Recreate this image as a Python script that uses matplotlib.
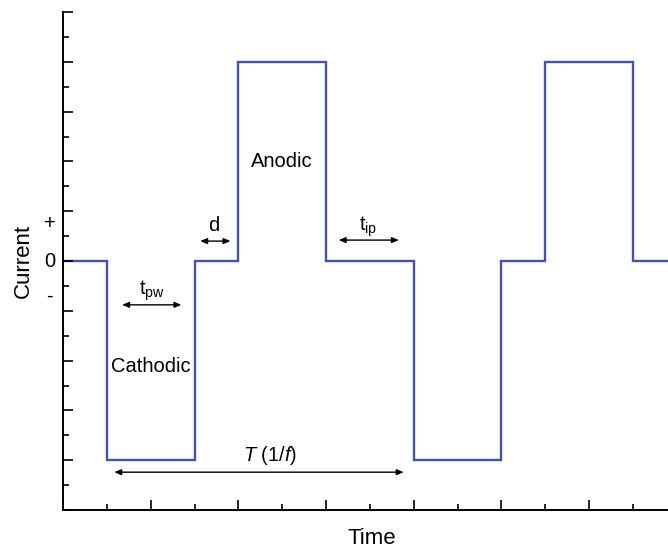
import matplotlib
matplotlib.use('Agg')
import matplotlib.pyplot as plt
from matplotlib.ticker import MultipleLocator

plt.rcParams['font.family'] = ['Liberation Sans', 'DejaVu Sans']
plt.rcParams['mathtext.fontset'] = 'custom'
plt.rcParams['mathtext.rm'] = 'Liberation Sans'
plt.rcParams['mathtext.it'] = 'Liberation Sans:italic'

# biphasic pulse train: step edges (time units) and current level between them
edges = [0, 1, 3, 4, 6, 8, 10, 11, 13, 13.8]
levels = [0, -4, 0, 4, 0, -4, 0, 4, 0]

# annotation arrows: (start, end, y)
arrows = {
    'tpw': (1.35, 2.7, -0.88),
    'd': (3.13, 3.82, 0.40),
    'tip': (6.29, 7.66, 0.42),
    'T': (1.17, 7.77, -4.24),
}

fig = plt.figure(figsize=(6.68, 5.48), dpi=100)
ax = fig.add_axes([0.0943, 0.0693, 0.9057, 0.9088])

ax.stairs(levels, edges, baseline=None, color='#4152b3', linewidth=1.7)

ax.set_xlim(0, 13.8)
ax.set_ylim(-5, 5)
for s in ['top', 'right']:
    ax.spines[s].set_visible(False)
for s in ['left', 'bottom']:
    ax.spines[s].set_linewidth(1.4)

ax.xaxis.set_major_locator(MultipleLocator(2))
ax.xaxis.set_minor_locator(MultipleLocator(1))
ax.yaxis.set_major_locator(MultipleLocator(1))
ax.yaxis.set_minor_locator(MultipleLocator(0.5))
ax.tick_params(which='both', direction='in', labelbottom=False, labelleft=False, width=1.2)
ax.tick_params(which='major', length=7)
ax.tick_params(which='minor', length=4)

# arrows
for key, (x0, x1, y) in arrows.items():
    ax.annotate('', xy=(x1, y), xytext=(x0, y),
                arrowprops=dict(arrowstyle='<|-|>,head_length=0.4,head_width=0.17',
                                color='black', lw=1.0, shrinkA=0, shrinkB=0))

fs = 14.5
ax.text(2.03, -0.6, r'$\mathregular{t_{pw}}$', ha='center', va='center', fontsize=fs)
ax.text(3.45, 0.72, 'd', ha='center', va='center', fontsize=fs)
ax.text(6.97, 0.68, r'$\mathregular{t_{ip}}$', ha='center', va='center', fontsize=fs)
ax.text(4.73, -3.9, r'$\mathit{T}$ (1/$\mathit{f}$)', ha='center', va='center', fontsize=fs)
ax.text(2.0, -2.12, 'Cathodic', ha='center', va='center', fontsize=fs)
ax.text(4.98, 2.0, 'Anodic', ha='center', va='center', fontsize=fs)

# level markers on the current axis
ax.text(-0.3, 0.75, '+', ha='center', va='center', fontsize=fs)
ax.text(-0.3, 0.0, '0', ha='center', va='center', fontsize=fs)
ax.text(-0.3, -0.7, '-', ha='center', va='center', fontsize=fs)

ax.set_xlabel('Time', fontsize=16, labelpad=13, x=0.51)
ax.set_ylabel('Current', fontsize=16, labelpad=21)

fig.savefig('out.png', dpi=100)
